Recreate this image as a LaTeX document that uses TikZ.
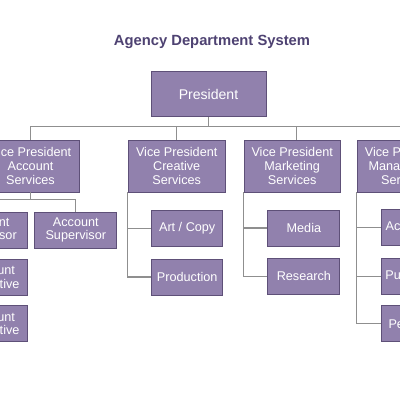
\documentclass[tikz,border=0pt]{standalone}
\usepackage{fontspec}
\setmainfont{Liberation Sans}
\definecolor{boxfill}{HTML}{9181AD}
\definecolor{boxline}{HTML}{5E5078}
\definecolor{titlecol}{HTML}{4E4272}
\definecolor{linkcol}{HTML}{8F8F8F}
\begin{document}
\begin{tikzpicture}[x=0.025cm,y=-0.025cm,
  box/.style={draw=boxline, fill=boxfill, line width=0.6pt, text=white, align=center, inner sep=0pt, font=\fontsize{9}{9.8}\selectfont},
  vpbox/.style={box, minimum width=2.425cm, minimum height=1.3cm},
  subbox/.style={box, minimum width=1.8cm, minimum height=0.9cm},
  titletext/.style={text=titlecol, font=\fontsize{10.5}{12}\selectfont\bfseries, anchor=base, inner sep=0pt},
  link/.style={draw=linkcol, line width=0.9pt}]
\useasboundingbox (0,0) rectangle (400,400);
\begin{scope}
\clip (0,0) rectangle (400,400);
\fill[white] (0,0) rectangle (400,400);
\node[titletext] (title) at (212,45.5) {Agency Department System};
\node[box, minimum width=2.875cm, minimum height=1.125cm, font=\fontsize{10}{12}\selectfont] (pres) at (208.5,94.2) {President};
\node[vpbox] (vpa) at (30.5,166) {Vice President\\Account\\Services};
\node[vpbox] (vpc) at (176.7,166) {Vice President\\Creative\\Services};
\node[vpbox, minimum width=2.4cm] (vpk) at (292.2,166) {Vice President\\Marketing\\Services};
\node[vpbox] (vpm) at (405.5,166) {Vice President\\Management\\Services};
% account services
\node[subbox, minimum width=2.05cm] (sup1) at (-13.5,230) {Account\\Supervisor};
\node[subbox, minimum width=2.05cm] (sup2) at (75.8,230) {Account\\Supervisor};
\node[subbox, minimum width=1.75cm] (exe1) at (-8,277.2) {Account\\Executive};
\node[subbox, minimum width=1.75cm] (exe2) at (-8,323.8) {Account\\Executive};
% creative
\node[subbox, minimum width=1.775cm] (art) at (187.2,228.3) {Art / Copy};
\node[subbox, minimum width=1.775cm] (prod) at (187.2,277) {Production};
% marketing
\node[subbox] (media) at (303.9,228) {Media};
\node[subbox] (res) at (303.9,276.3) {Research};
% management
\node[subbox] (acc) at (417,227.7) {Accounting};
\node[subbox] (pur) at (417,276.3) {Purchasing};
\node[subbox] (per) at (417,323.5) {Personnel};
% connectors
\coordinate (bus) at (0,126.5);
\coordinate (abus) at (0,199.5);
\draw[link] (pres.south) -- (pres.south |- bus);
\draw[link] (vpa.north |- bus) -- (vpm.north |- bus);
\draw[link] (vpa.north) -- (vpa.north |- bus);
\draw[link] (vpc.north) -- (vpc.north |- bus);
\draw[link] ([xshift=0.11cm]vpk.north) -- ([xshift=0.11cm]vpk.north |- bus);
\draw[link] (vpm.north) -- (vpm.north |- bus);
\draw[link] (vpa.south) -- (vpa.south |- abus);
\draw[link] (sup1.north) |- (sup2.north |- abus) -- (sup2.north);
\draw[link] (sup1.south west) |- (exe2.west);
\draw[link] (sup1.south west |- exe1.west) -- (exe1.west);
\draw[link] (vpc.south west) |- (prod.west);
\draw[link] (vpc.south west |- art.west) -- (art.west);
\draw[link] (vpk.south west) |- (res.west);
\draw[link] (vpk.south west |- media.west) -- (media.west);
\draw[link] (vpm.south west) |- (per.west);
\draw[link] (vpm.south west |- acc.west) -- (acc.west);
\draw[link] (vpm.south west |- pur.west) -- (pur.west);
\end{scope}
\end{tikzpicture}
\end{document}
